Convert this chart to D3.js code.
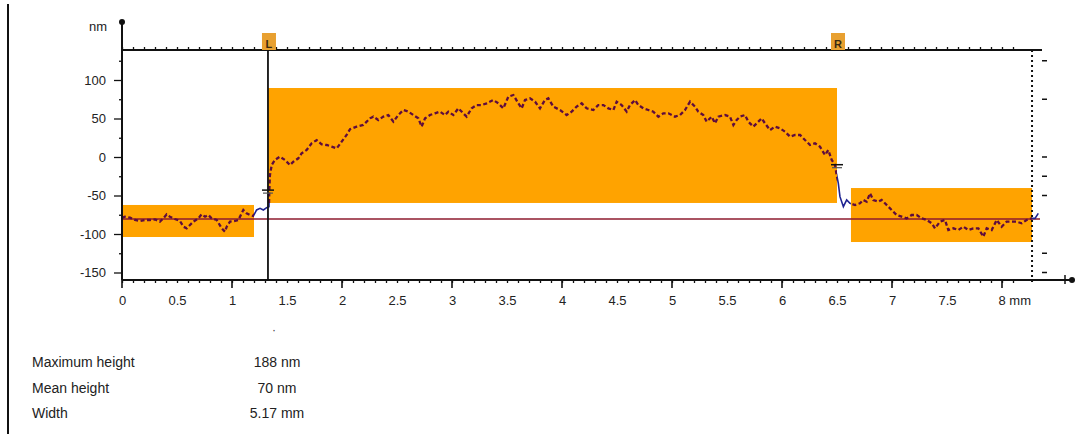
<!DOCTYPE html>
<html><head><meta charset="utf-8">
<script src="https://cdn.jsdelivr.net/npm/d3@7"></script>
<style>
html,body{margin:0;padding:0;background:#fff;}
svg{display:block;font-family:"Liberation Sans",Arial,sans-serif;}
</style></head>
<body><svg id="c" width="1076" height="434"></svg>
<script>
// ---------- data ----------
const xMajor = [0,0.5,1,1.5,2,2.5,3,3.5,4,4.5,5,5.5,6,6.5,7,7.5,8];
const xLabels = ["0","0.5","1","1.5","2","2.5","3","3.5","4","4.5","5","5.5","6","6.5","7","7.5","8 mm"];
const yMajor = [100,50,0,-50,-100,-150];
const yLabels = ["100","50","0","-50","-100","-150"];
const yMinor = [125,75,25,-25,-75,-125];
const rightTicks = [125,75,0,-25,-50,-125,-150];
const yUnit = "nm";

const regionX0 = [0, 1.327, 6.627];
const regionX1 = [1.2, 6.5, 8.273];
const regionYLow = [-103.9, -59.7, -110.4];
const regionYHigh = [-62.3, 89.6, -40.3];

const baseline = -80.5;
const cursorNames = ["L","R"];
const cursorX = [1.327, 6.5];
const cursorMarkY = [-43, -10];

const profX = [0.000,0.027,0.073,0.118,0.164,0.209,0.255,0.300,0.345,0.376,0.406,0.436,0.480,0.527,0.558,0.588,0.618,0.648,0.694,0.724,0.755,0.785,0.815,0.861,0.906,0.936,0.952,0.982,1.027,1.058,1.088,1.103,1.133,1.164,1.194,1.224,1.255,1.285,1.315,1.336,1.339,1.345,1.361,1.390,1.436,1.482,1.527,1.558,1.603,1.633,1.679,1.724,1.770,1.815,1.861,1.906,1.952,1.997,2.042,2.073,
2.133,2.194,2.255,2.285,2.330,2.376,2.421,2.467,2.512,2.558,2.603,2.648,2.694,2.724,2.755,2.800,2.845,2.891,2.936,2.967,3.012,3.058,3.103,3.133,3.179,3.224,3.270,3.315,3.376,3.421,3.467,3.512,3.558,3.603,3.633,3.664,3.709,3.755,3.800,3.845,3.876,3.921,3.982,4.042,4.088,4.133,4.179,4.224,
4.285,4.330,4.376,4.421,4.467,4.497,4.542,4.588,4.618,4.664,4.694,4.739,4.785,4.830,4.876,4.921,4.967,5.027,5.073,5.118,5.164,5.209,5.239,5.285,5.315,5.361,5.391,5.421,5.482,5.527,5.558,5.588,5.618,5.664,5.694,5.739,5.785,5.815,5.845,5.891,5.936,5.982,6.027,6.073,6.118,6.164,6.209,6.255,6.300,6.345,6.391,6.421,6.452,6.482,6.497,
6.512,6.527,6.558,6.588,6.618,6.664,6.709,6.739,6.770,6.800,6.830,6.876,6.906,6.936,6.967,7.012,7.042,7.088,7.133,7.179,7.224,7.270,7.315,7.361,7.391,7.436,7.482,7.512,7.558,7.603,7.649,7.694,7.739,7.785,7.830,7.861,7.906,7.952,7.997,8.042,8.088,8.133,8.179,8.224,8.270,8.300,8.330];
const profY = [-79,-77.5,-78.8,-81.8,-83.1,-81.8,-81.8,-81.0,-84.0,-79.7,-74.5,-77.5,-80.5,-83.1,-90.5,-92.6,-88.3,-84.0,-79.7,-74.5,-77.5,-75.3,-79.7,-81.8,-92.6,-97.0,-90.5,-84.0,-83.1,-81.8,-73.2,-68.8,-73.2,-75.3,-76.6,-68.8,-66.7,-68.8,-65.8,-64.5,-45.0,-23.4,-10.4,-3.9,0.4,-3.9,-10.4,-6.1,-1.7,4.8,9.1,17.8,22.0,16.5,15.6,13.4,11.3,19.9,28.6,36.0,
39.4,41.6,50.2,52.4,48.0,52.4,54.5,45.9,54.5,61.0,58.9,54.5,50.2,39.4,50.2,54.5,56.7,58.9,54.5,58.9,54.5,63.2,56.7,52.4,63.2,67.5,67.5,69.7,74.0,69.7,63.2,78.3,80.5,69.7,63.2,74.0,76.2,71.8,63.2,74.0,76.2,65.4,61.0,54.5,58.9,65.4,69.7,63.2,
61.0,67.5,67.5,63.2,61.0,71.8,67.5,58.9,67.5,74.0,67.5,63.2,61.0,58.9,52.4,56.7,56.7,52.4,54.5,61.0,71.8,65.4,58.9,54.5,45.9,52.4,43.8,52.4,54.5,52.4,41.6,48.0,52.4,54.5,45.9,39.4,45.9,50.2,43.8,35.0,39.4,37.2,32.9,26.4,28.6,28.6,22.0,15.6,17.8,13.4,2.6,9.1,-3.9,-10.4,-23.4,
-34.2,-51.5,-64.5,-55.8,-60.1,-62.3,-60.1,-55.8,-58.0,-47.2,-55.8,-58.0,-55.8,-60.1,-64.5,-71.0,-75.3,-77.5,-79.7,-75.3,-75.3,-79.7,-81.8,-86.1,-92.6,-84.0,-81.8,-94.8,-92.6,-94.8,-90.5,-94.8,-92.6,-92.6,-103.5,-92.6,-94.8,-81.8,-90.5,-84.0,-84.0,-84.0,-86.1,-81.8,-79.7,-79.7,-73.2];

const infoLabels = ["Maximum height","Mean height","Width"];
const infoValues = ["188 nm","70 nm","5.17 mm"];

// ---------- colours ----------
const ORANGE = "#FFA300", BLUE = "#1e2391", MAROON = "#5e0c3e", RED = "#8e1b2e", INK = "#222";

// ---------- scales ----------
const x = d3.scaleLinear().domain([0, 8]).range([122, 1002]);
const y = d3.scaleLinear().domain([0, 100]).range([157, 80]);
const xEnd = x.invert(1040), yTop = y.invert(50), yBot = y.invert(280);

const svg = d3.select("#c");
const defs = svg.append("defs");

// left frame line
svg.append("line").attr("x1",8).attr("x2",8).attr("y1",4).attr("y2",434)
  .attr("stroke","#111").attr("stroke-width",2);

// regions
const regions = regionX0.map((d,i)=>({x0:d,x1:regionX1[i],lo:regionYLow[i],hi:regionYHigh[i]}));
svg.append("g").selectAll("rect").data(regions).join("rect")
  .attr("x",d=>x(d.x0)).attr("y",d=>y(d.hi))
  .attr("width",d=>x(d.x1)-x(d.x0)).attr("height",d=>y(d.lo)-y(d.hi))
  .attr("fill",ORANGE);

// clip & mask for profile colouring
const clip = defs.append("clipPath").attr("id","inReg");
clip.selectAll("rect").data(regions).join("rect")
  .attr("x",d=>x(d.x0)).attr("y",d=>y(d.hi))
  .attr("width",d=>x(d.x1)-x(d.x0)).attr("height",d=>y(d.lo)-y(d.hi));
const mask = defs.append("mask").attr("id","outReg");
mask.append("rect").attr("x",0).attr("y",0).attr("width",1076).attr("height",434).attr("fill","#fff");
mask.selectAll("rect.r").data(regions).join("rect").attr("class","r")
  .attr("x",d=>x(d.x0)).attr("y",d=>y(d.hi))
  .attr("width",d=>x(d.x1)-x(d.x0)).attr("height",d=>y(d.lo)-y(d.hi)).attr("fill","#000");

// baseline (reference level)
svg.append("line").attr("x1",x(0)).attr("x2",x(xEnd)).attr("y1",y(baseline)).attr("y2",y(baseline))
  .attr("stroke",RED).attr("stroke-width",1.6);

// profile
const pts = profX.map((d,i)=>[d,profY[i]]);
const line = d3.line().x(d=>x(d[0])).y(d=>y(d[1]));
svg.append("path").datum(pts).attr("d",line).attr("fill","none")
  .attr("stroke",BLUE).attr("stroke-width",1.6).attr("mask","url(#outReg)");
svg.append("path").datum(pts).attr("d",line).attr("fill","none")
  .attr("stroke",MAROON).attr("stroke-width",2.3).attr("stroke-dasharray","4,2.5")
  .attr("clip-path","url(#inReg)");

// right dotted boundary
svg.append("line").attr("x1",x(8.273)).attr("x2",x(8.273)).attr("y1",y(yTop)).attr("y2",y(yBot)+3)
  .attr("stroke","#111").attr("stroke-width",2).attr("stroke-dasharray","2,3");

// ---------- axes ----------
const FS = 13;
// bottom axis
const gB = svg.append("g").attr("transform",`translate(0,${y(yBot)})`);
const minorX = d3.range(0, 82).map(i=>i/10).filter(v=>v<=xEnd);
gB.call(d3.axisBottom(x).tickValues(minorX).tickSize(3).tickFormat(""))
  .call(g=>g.select(".domain").remove())
  .call(g=>g.selectAll("line").attr("stroke","#111").attr("stroke-width",1.3));
gB.append("g").call(d3.axisBottom(x).tickValues(xMajor).tickSize(0).tickPadding(16)
    .tickFormat((d,i)=>xLabels[i]))
  .call(g=>g.select(".domain").remove())
  .call(g=>g.selectAll("text").attr("font-size",FS).attr("fill",INK)
    .attr("font-family","Liberation Sans, Arial, sans-serif"))
  .call(g=>g.selectAll(".tick").filter((d,i)=>i===xLabels.length-1).select("text")
    .attr("text-anchor","start").attr("dx",-4));
gB.selectAll("line.maj").data(xMajor.filter(v=>Number.isInteger(v))).join("line").attr("class","maj")
  .attr("x1",d=>x(d)).attr("x2",d=>x(d)).attr("y1",0).attr("y2",8).attr("stroke","#111").attr("stroke-width",1.6);
gB.append("line").attr("x1",x(0)).attr("x2",1070).attr("y1",0).attr("y2",0).attr("stroke","#111").attr("stroke-width",2);
gB.append("circle").attr("cx",1072).attr("cy",0).attr("r",3).attr("fill","#111");
gB.append("line").attr("x1",1065).attr("x2",1065).attr("y1",-5).attr("y2",4).attr("stroke","#111").attr("stroke-width",1.5);

// top axis (ticks only)
const gT = svg.append("g").attr("transform",`translate(0,${y(yTop)})`);
gT.call(d3.axisTop(x).tickValues(minorX).tickSize(3).tickFormat(""))
  .call(g=>g.select(".domain").remove())
  .call(g=>g.selectAll("line").attr("stroke","#111").attr("stroke-width",1.3));
gT.append("line").attr("x1",x(0)).attr("x2",x(xEnd)+2).attr("y1",0).attr("y2",0).attr("stroke","#111").attr("stroke-width",2);

// left axis
const gL = svg.append("g").attr("transform",`translate(${x(0)},0)`);
gL.call(d3.axisLeft(y).tickValues(yMinor).tickSize(3).tickFormat(""))
  .call(g=>g.select(".domain").remove())
  .call(g=>g.selectAll("line").attr("stroke","#111").attr("stroke-width",1.3));
gL.append("g").call(d3.axisLeft(y).tickValues(yMajor).tickSize(8).tickPadding(8).tickFormat((d,i)=>yLabels[i]))
  .call(g=>g.select(".domain").remove())
  .call(g=>g.selectAll("line").attr("stroke","#111").attr("stroke-width",1.3))
  .call(g=>g.selectAll("text").attr("font-size",FS).attr("fill",INK)
    .attr("font-family","Liberation Sans, Arial, sans-serif"));
gL.append("line").attr("x1",0).attr("x2",0).attr("y1",20).attr("y2",y(yBot)).attr("stroke","#111").attr("stroke-width",2);
gL.append("circle").attr("cx",0).attr("cy",22).attr("r",3).attr("fill","#111");
gL.append("text").attr("x",-15).attr("y",31).attr("text-anchor","end").attr("font-size",FS).attr("fill",INK).text(yUnit);

// right ticks
svg.append("g").selectAll("line").data(rightTicks).join("line")
  .attr("x1",1042).attr("x2",1047).attr("y1",d=>y(d)).attr("y2",d=>y(d))
  .attr("stroke","#111").attr("stroke-width",1.5);

// ---------- cursors ----------
svg.append("line").attr("x1",x(cursorX[0])).attr("x2",x(cursorX[0])).attr("y1",36).attr("y2",y(yBot))
  .attr("stroke","#111").attr("stroke-width",1.8);
const gc = svg.append("g").selectAll("g").data(cursorNames).join("g")
  .attr("transform",(d,i)=>`translate(${x(cursorX[i])},0)`);
gc.append("rect").attr("x",-6).attr("y",33).attr("width",14).attr("height",17).attr("fill","#E8A030");
gc.append("text").attr("x",1).attr("y",48).attr("text-anchor","middle").attr("font-size",11)
  .attr("font-weight","bold").attr("fill","#3a2a10").text(d=>d);
gc.append("line").attr("x1",-6).attr("x2",6).attr("y1",(d,i)=>y(cursorMarkY[i])).attr("y2",(d,i)=>y(cursorMarkY[i]))
  .attr("stroke","#111").attr("stroke-width",1.5);
gc.append("line").attr("x1",-5).attr("x2",5).attr("y1",(d,i)=>y(cursorMarkY[i])+3).attr("y2",(d,i)=>y(cursorMarkY[i])+3)
  .attr("stroke","#555").attr("stroke-width",1.2);

// ---------- info text ----------
svg.append("text").attr("x",274).attr("y",334).attr("text-anchor","middle").attr("font-size",12).attr("fill","#444").text("·");
const info = svg.append("g").selectAll("g").data(infoLabels).join("g")
  .attr("transform",(d,i)=>`translate(0,${367 + i*25.5})`);
info.append("text").attr("x",32).attr("font-size",14).attr("fill",INK).text(d=>d);
info.append("text").attr("x",277).attr("text-anchor","middle").attr("font-size",14).attr("fill",INK).text((d,i)=>infoValues[i]);
</script></body></html>
